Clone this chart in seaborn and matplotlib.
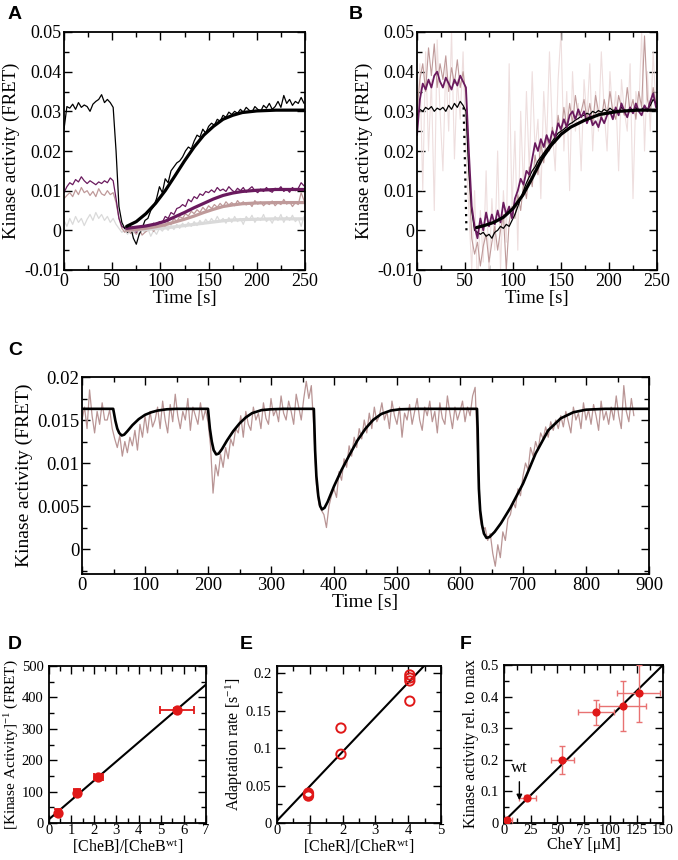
import numpy as np
import matplotlib
matplotlib.use("Agg")
import matplotlib.pyplot as plt
from matplotlib.ticker import MultipleLocator, FuncFormatter
import seaborn as sns

sns.set_theme(style="ticks")
plt.rcParams['font.family'] = ['Liberation Serif', 'DejaVu Serif']
plt.rcParams['mathtext.fontset'] = 'custom'
plt.rcParams['mathtext.rm'] = 'Liberation Serif'
plt.rcParams['mathtext.it'] = 'Liberation Serif:italic'
plt.rcParams['text.color'] = 'black'
plt.rcParams['axes.labelcolor'] = 'black'
plt.rcParams['xtick.color'] = 'black'
plt.rcParams['ytick.color'] = 'black'

# ---------------- DATA (FRET values in units of 1e-4) ----------------
STEP_AB = 3  # s between samples in panels A and B
A_BLACK = [255, 312, 308, 318, 305, 322, 310, 316, 312, 300, 318, 325, 330, 342, 322, 330, 322, 310,
           200, 60, 20, 5, -5, 10, -20, -35, -10, 5, 25, 30, 50, 60, 80, 110, 95, 130, 120, 150, 160,
           170, 175, 185, 200, 210, 205, 225, 240, 235, 255, 245, 262, 270, 265, 280, 275, 290, 285,
           298, 292, 300, 295, 305, 298, 310, 303, 298, 312, 305, 300, 315, 308, 320, 305, 312, 325,
           310, 340, 320, 330, 315, 325, 320, 335, 320]
A_PURPLE = [95, 110, 120, 115, 128, 122, 135, 125, 118, 125, 120, 115, 122, 118, 125, 120, 132, 125,
            80, 30, 10, 5, 12, 0, 8, -5, 5, 10, 2, 12, 8, 18, 10, 22, 20, 35, 30, 45, 40, 55, 58, 65,
            60, 78, 72, 85, 80, 92, 88, 98, 95, 102, 96, 108, 100, 104, 98, 110, 102, 96, 106, 100,
            108, 96, 104, 110, 100, 95, 104, 98, 108, 100, 96, 106, 102, 110, 98, 104, 96, 108, 100,
            106, 120, 112]
A_PINK = [80, 88, 95, 85, 102, 90, 108, 95, 100, 88, 98, 85, 105, 92, 88, 100, 90, 95, 70, 30, 5,
          -5, 5, -8, 0, -10, 5, -12, -5, 0, 8, -3, 10, 5, 15, 8, 22, 15, 30, 22, 35, 30, 42, 36, 48,
          42, 52, 45, 58, 50, 62, 55, 65, 58, 68, 60, 72, 64, 70, 62, 75, 66, 72, 64, 70, 60, 75, 66,
          72, 62, 70, 65, 74, 62, 70, 65, 78, 66, 72, 60, 70, 65, 95, 75]
A_GRAY = [25, 10, 30, 15, 35, 20, 30, 12, 28, 40, 25, 45, 30, 40, 25, 35, 20, 30, 15, 5, -5, 0,
          -10, 5, -8, 0, -12, 2, -5, 5, -15, 0, -10, 5, -2, 8, 0, 12, 2, 15, 5, 18, 8, 20, 10, 22,
          12, 25, 15, 28, 18, 30, 20, 35, 22, 30, 18, 32, 20, 35, 22, 30, 15, 35, 25, 38, 20, 32, 25,
          40, 22, 30, 18, 35, 25, 40, 20, 35, 25, 38, 22, 30, 10, 35]
FIT_T_A = [65, 75, 85, 95, 105, 115, 125, 135, 145, 155, 165, 175, 185, 200, 220, 250]
FIT_A_BLACK = [10, 22, 42, 68, 100, 137, 175, 210, 240, 262, 280, 290, 297, 301, 303, 303]
FIT_A_PURPLE = [5, 8, 11, 16, 23, 34, 45, 57, 68, 79, 88, 94, 98, 101, 103, 103]
FIT_A_PINK = [0, 2, 5, 9, 14, 21, 28, 36, 45, 53, 60, 64, 67, 69, 70, 70]
FIT_A_GRAY = [0, 1, 2, 4, 6, 9, 12, 15, 18, 21, 24, 26, 27, 28, 29, 29]

B_BLACK = [290, 305, 300, 310, 305, 312, 300, 308, 304, 310, 300, 315, 305, 320, 310, 325, 315, 300,
           150, 50, 0, -5, -10, -5, -15, -10, -20, -5, 0, 10, 5, 15, 10, 25, 40, 60, 80, 100, 120,
           135, 150, 160, 175, 185, 195, 205, 215, 225, 235, 245, 250, 255, 262, 268, 272, 278, 282,
           288, 290, 295, 292, 300, 296, 302, 298, 305, 300, 308, 302, 305, 300, 310, 304, 300, 308,
           302, 310, 300, 305, 312, 305, 315, 330, 320]
B_PURPLE = [240, 330, 370, 355, 380, 360, 390, 400, 375, 360, 385, 370, 355, 380, 365, 390, 375, 360,
            200, 60, 10, -20, 30, 0, 45, 10, 40, 15, 50, 20, 70, 40, 60, 30, 80, 100, 130, 115, 150,
            140, 180, 220, 200, 230, 210, 240, 220, 250, 235, 270, 255, 280, 260, 290, 300, 280, 305,
            285, 300, 270, 290, 265, 275, 260, 285, 270, 290, 300, 280, 310, 290, 320, 300, 285, 310,
            295, 320, 300, 290, 315, 300, 325, 345, 310]
B_PINK = [300, 380, 420, 350, 460, 390, 470, 360, 420, 380, 440, 350, 410, 370, 430, 360, 400, 340,
          150, -20, -60, -30, -90, -40, -10, -80, -30, 10, -50, 0, 40, -100, 20, 60, 30, 90, 50, 120,
          80, 160, 110, 190, 140, 220, 170, 240, 200, 260, 220, 290, 240, 310, 260, 320, 270, 340,
          290, 300, 330, 280, 320, 270, 340, 300, 280, 330, 290, 350, 300, 280, 340, 310, 290, 360,
          300, 330, 280, 350, 310, 490, 330, 300, 360, 320]
B_LIGHT = [250, 420, 100, 450, 200, 380, 50, 480, 300, 150, 420, 250, 500, 180, 380, 280, 450, 200,
           50, -100, 100, -150, 50, -80, 150, -120, 80, -50, 200, -100, 100, -30, 420, 50, 250, -50,
           300, 100, 350, 150, 400, 200, 280, 80, 350, 220, 450, 250, 150, 380, 500, 200, 350, 100,
           400, 250, 320, 150, 380, 280, 420, 200, 350, 250, 450, 300, 200, 400, 280, 350, 150, 380,
           300, 250, 420, 80, 350, 300, 500, 200, 400, 250, 450, 300]
FIT_T_B = [62, 70, 80, 90, 100, 110, 120, 130, 140, 150, 160, 175, 190, 210, 230, 250]
FIT_B = [7, 12, 20, 33, 55, 88, 132, 180, 215, 242, 260, 278, 292, 300, 303, 303]
STEP_T_B = [48.5, 49.5, 50.5, 51.5]
STEP_B = [310, 220, 110, 0]

STEP_C = 4  # s between samples in panel C
C_DATA = [150, 165, 140, 185, 155, 135, 160, 145, 170, 150,
          150, 162, 140, 128, 118, 132, 108, 125, 112, 130,
          120, 138, 115, 145, 130, 155, 135, 160, 142, 150,
          165, 140, 172, 150, 135, 168, 148, 180, 155, 140,
          160, 150, 175, 138, 165, 155, 145, 170, 150, 162,
          148, 120, 65, 98, 85, 110, 95, 118, 105, 128,
          120, 140, 135, 155, 130, 160, 145, 138, 165, 150,
          158, 140, 170, 152, 145, 175, 155, 162, 148, 178,
          158, 150, 172, 160, 145, 180, 165, 150, 175, 195,
          175, 190, 140, 75, 52, 45, 40, 25, 50, 62,
          70, 60, 90, 80, 105, 95, 120, 108, 130, 118,
          140, 128, 150, 135, 158, 140, 165, 148, 155, 170,
          150, 160, 140, 172, 155, 145, 165, 130, 158, 150,
          168, 145, 160, 175, 150, 138, 165, 155, 172, 148,
          160, 135, 170, 152, 145, 178, 158, 140, 165, 150,
          160, 172, 148, 165, 155, 178, 188, 110, 35, 22,
          25, 10, 18, -5, -20, 5, -10, 20, 10, 35,
          40, 55, 48, 70, 62, 85, 100, 92, 118, 108,
          125, 115, 135, 128, 142, 130, 148, 138, 150, 140,
          155, 142, 160, 148, 135, 165, 150, 158, 140, 170,
          150, 162, 145, 168, 155, 138, 172, 150, 160, 145,
          165, 150, 178, 155, 140, 190, 160, 148, 175, 155]
FIT_T_C = [0, 49.5, 51, 53, 56, 59, 63, 67, 72, 80, 90, 100, 110, 120, 135, 150,
           200, 201, 203, 206, 209, 213, 217, 222, 230, 240, 250, 260, 270, 285, 300, 320,
           368, 369, 370, 372, 375, 378, 381, 385, 390, 400, 412, 425, 437, 450, 462, 475, 490, 505, 530,
           627, 628, 629, 630, 632, 635, 638, 642, 647, 655, 665, 680, 700, 720, 740, 760, 780, 800, 830, 900]
FIT_C = [163, 163, 157, 149, 140, 135, 132, 133, 137, 144, 151, 156, 159, 161, 162.5, 163,
         163, 155, 140, 125, 115, 110, 111, 116, 126, 137, 146, 153, 158, 161.5, 162.5, 163,
         163, 140, 115, 85, 62, 50, 46, 48, 55, 73, 92, 110, 126, 140, 150, 157, 161, 162.5, 163,
         163, 140, 100, 70, 45, 28, 18, 13, 14, 20, 30, 48, 76, 111, 138, 152, 159, 162, 163, 163]

D_X = [0.4, 1.25, 2.2, 5.7]
D_Y = [33, 97, 146, 360]
D_XERR = [0.1, 0.12, 0.2, 0.75]
D_YERR = [10, 10, 8, 5]
D_LINE_X = [0, 7]
D_LINE_Y = [12, 441]

E_X = [0.96, 0.96, 0.96, 1.95, 1.95, 4.05, 4.05, 4.05, 4.05]
E_Y = [0.040, 0.036, 0.038, 0.127, 0.092, 0.198, 0.194, 0.190, 0.163]
E_LINE_X = [0, 4.6]
E_LINE_Y = [0.003, 0.2155]

F_X = [3, 22, 55, 87, 112, 127]
F_Y = [0.01, 0.08, 0.20, 0.35, 0.37, 0.41]
F_XERR = [5, 8, 11, 17, 22, 20]
F_YERR = [0.005, 0.008, 0.045, 0.04, 0.08, 0.09]
F_LINE_X = [0, 150]
F_LINE_Y = [0.005, 0.5]
WT_X = 14.5

# ---------------- helpers ----------------
W, H = 678, 860
fig = plt.figure(figsize=(W / 100, H / 100), dpi=100)


def box(l, t, r, b):
    return fig.add_axes([l / W, 1 - b / H, (r - l) / W, (b - t) / H])


fmt = FuncFormatter(lambda v, p: f"{v:g}" if abs(v) > 1e-12 else "0")


def style(ax, xlim, ylim, xmaj, xmin, ymaj, ymin, fs, pad=2, ypad=None):
    ax.set_xlim(*xlim)
    ax.set_ylim(*ylim)
    ax.xaxis.set_major_locator(MultipleLocator(xmaj))
    ax.xaxis.set_minor_locator(MultipleLocator(xmin))
    ax.yaxis.set_major_locator(MultipleLocator(ymaj))
    ax.yaxis.set_minor_locator(MultipleLocator(ymin))
    ax.xaxis.set_major_formatter(fmt)
    ax.yaxis.set_major_formatter(fmt)
    ax.tick_params(which='both', direction='in', top=True, right=True, labelsize=fs,
                   width=1.0, pad=pad)
    if ypad is not None:
        ax.tick_params(axis='y', which='both', pad=ypad)
    ax.tick_params(which='major', length=6)
    ax.tick_params(which='minor', length=3.5)
    for s in ax.spines.values():
        s.set_linewidth(1.3)
        s.set_color('black')
    ax.set_facecolor('white')


def line(ax, x, y, **kw):
    sns.lineplot(x=x, y=y, ax=ax, estimator=None, sort=False, legend=False, **kw)


def letter(x, y, s):
    fig.text(x / W, 1 - y / H, s, fontfamily=['Liberation Sans', 'DejaVu Sans'],
             fontweight='bold', fontsize=14, va='top', ha='left')


BLACK = '#000000'
PURPLE = '#6a1a5e'
PINK = '#bf9a9a'
GRAY = '#dadada'
LIGHT = '#eedede'
CNOISE = '#b99595'
RED = '#e01818'
SC = 1e-4

# ---------------- Panel A ----------------
axA = box(64, 32, 305, 270)
style(axA, (0, 250), (-0.01, 0.05), 50, 25, 0.01, 0.005, 13)
for vals, col in [(A_GRAY, GRAY), (A_PINK, PINK), (A_PURPLE, PURPLE), (A_BLACK, BLACK)]:
    line(axA, np.arange(len(vals)) * STEP_AB, np.array(vals) * SC, color=col, lw=0.9)
for vals, col in [(FIT_A_GRAY, GRAY), (FIT_A_PINK, PINK), (FIT_A_PURPLE, PURPLE), (FIT_A_BLACK, BLACK)]:
    line(axA, FIT_T_A, np.array(vals) * SC, color=col, lw=2.3)
axA.set_xlabel('Time [s]', fontsize=13.5, labelpad=0)
axA.set_ylabel('Kinase activity (FRET)', fontsize=13.5, labelpad=3)

# ---------------- Panel B ----------------
axB = box(417, 32, 657, 270)
style(axB, (0, 250), (-0.01, 0.05), 50, 25, 0.01, 0.005, 13)
for vals, col, lw in [(B_LIGHT, LIGHT, 0.8), (B_PINK, PINK, 0.8), (B_BLACK, BLACK, 0.9),
                      (B_PURPLE, PURPLE, 1.3)]:
    line(axB, np.arange(len(vals)) * STEP_AB, np.array(vals) * SC, color=col, lw=lw)
line(axB, FIT_T_B, np.array(FIT_B) * SC, color=BLACK, lw=2.3)
line(axB, STEP_T_B, np.array(STEP_B) * SC, color=BLACK, lw=1.6, linestyle=(0, (1, 2.2)))
axB.set_xlabel('Time [s]', fontsize=13.5, labelpad=0)
axB.set_ylabel('Kinase activity (FRET)', fontsize=13.5, labelpad=3)

# ---------------- Panel C ----------------
axC = box(82, 377, 649, 574)
style(axC, (0, 900), (-0.0029, 0.02), 100, 50, 0.005, 0.0025, 13.5)
line(axC, np.arange(len(C_DATA)) * STEP_C, np.array(C_DATA) * SC, color=CNOISE, lw=0.9)
line(axC, FIT_T_C, np.array(FIT_C) * SC, color=BLACK, lw=1.9)
axC.set_xlabel('Time [s]', fontsize=14, labelpad=0)
axC.set_ylabel('Kinase activity (FRET)', fontsize=14, labelpad=3)

# ---------------- Panel D ----------------
axD = box(49, 666, 206, 823)
style(axD, (0, 7), (0, 500), 1, 0.5, 100, 50, 10.5, pad=1, ypad=4)
line(axD, D_LINE_X, D_LINE_Y, color=BLACK, lw=1.5)
axD.errorbar(D_X, D_Y, xerr=D_XERR, yerr=D_YERR, fmt='none', ecolor=RED, elinewidth=1.3,
             capsize=3, capthick=1.3, zorder=3)
sns.scatterplot(x=D_X, y=D_Y, ax=axD, color=RED, s=55, edgecolor=RED, linewidth=0, zorder=4,
                legend=False)
axD.set_xlabel('[CheB]/[CheB$^{\\mathrm{wt}}$]', fontsize=11.5, labelpad=0)
axD.set_ylabel('[Kinase Activity]$^{-1}$ (FRET)', fontsize=11, labelpad=0.5)

# ---------------- Panel E ----------------
axE = box(277, 666, 441, 823)
style(axE, (0, 5), (0, 0.21), 1, 0.5, 0.05, 0.025, 10.5, pad=1, ypad=4)
line(axE, E_LINE_X, E_LINE_Y, color=BLACK, lw=1.5)
sns.scatterplot(x=E_X, y=E_Y, ax=axE, facecolor='none', edgecolor=RED, s=45, linewidth=1.4,
                zorder=4, legend=False)
axE.set_xlabel('[CheR]/[CheR$^{\\mathrm{wt}}$]', fontsize=11.5, labelpad=0)
axE.set_ylabel('Adaptation rate [s$^{-1}$]', fontsize=11.5, labelpad=0.5)

# ---------------- Panel F ----------------
axF = box(504, 665, 663, 823)
style(axF, (0, 150), (0, 0.5), 25, 12.5, 0.1, 0.05, 10.5, pad=1, ypad=4)
line(axF, F_LINE_X, F_LINE_Y, color=BLACK, lw=1.5)
axF.errorbar(F_X, F_Y, xerr=F_XERR, yerr=F_YERR, fmt='none', ecolor='#e87272', elinewidth=1.0,
             capsize=2.5, capthick=1.0, zorder=3)
sns.scatterplot(x=F_X, y=F_Y, ax=axF, color=RED, s=35, linewidth=0, zorder=4, legend=False)
axF.annotate('wt', xy=(WT_X, 0.072), xytext=(WT_X, 0.175), fontsize=12, ha='center', va='center',
             arrowprops=dict(arrowstyle='-|>', color='black', lw=1.0, mutation_scale=8,
                             shrinkA=2, shrinkB=0))
axF.set_xlabel('CheY [μM]', fontsize=11.5, labelpad=0)
axF.set_ylabel('Kinase activity rel. to max', fontsize=11.5, labelpad=0.5)

letter(8, 6, 'A')
letter(349, 6, 'B')
letter(8, 342, 'C')
letter(8, 636, 'D')
letter(240, 636, 'E')
letter(460, 636, 'F')

fig.savefig('out.png', dpi=100, facecolor='white')
